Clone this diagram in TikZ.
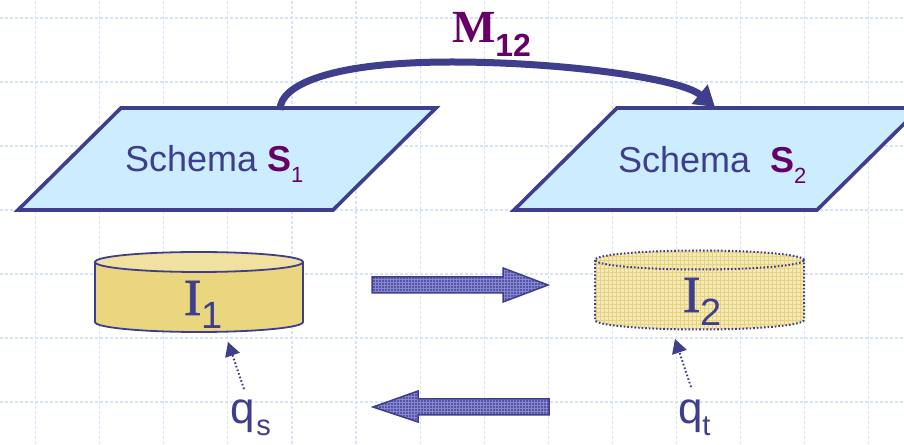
\documentclass[tikz,border=0pt]{standalone}
\usepackage{fontspec}
\setmainfont{Liberation Sans}
\newfontfamily\serifI{Liberation Serif}
\newfontfamily\serifIfat[FakeBold=1.6]{Liberation Serif}
\usetikzlibrary{arrows.meta}
\definecolor{mainblue}{RGB}{62,62,140}
\definecolor{maroon}{RGB}{102,0,102}
\definecolor{pfill}{RGB}{204,236,255}
\definecolor{gridc}{RGB}{216,226,250}
\definecolor{cylbody}{RGB}{235,214,128}
\definecolor{cyltop}{RGB}{241,225,160}
\definecolor{cyltwofill}{RGB}{246,234,180}
\definecolor{cyltwogrid}{RGB}{230,210,135}
\definecolor{barrow}{RGB}{86,86,168}
\definecolor{barrowgrid}{RGB}{135,135,205}
\begin{document}
\begin{tikzpicture}[x=1pt,y=1pt,
  bggrid/.style={gridc, line width=1.2pt, dash pattern=on 3pt off 2pt},
  schemabox/.style={draw=mainblue, fill=pfill, line width=3.6pt, line join=miter},
  cylline/.style={draw=mainblue, line width=1.8pt},
  cyldots/.style={draw=mainblue, line width=2pt, dash pattern=on 1.6pt off 2pt},
  blockline/.style={draw=mainblue, line width=1.5pt, line join=miter},
  texgrid/.style={barrowgrid, line width=0.6pt},
  lbl/.style={inner sep=0pt, outer sep=0pt, anchor=base west, text=mainblue},
  maparrow/.style={draw=mainblue, line width=7pt, -{Triangle[length=20pt,width=24pt]}},
  dotarrow/.style={draw=mainblue, line width=2pt, dash pattern=on 1.6pt off 2.2pt, -{Triangle[length=14pt,width=15pt]}}
]
\useasboundingbox (0,0) rectangle (904,444);
\fill[white] (0,0) rectangle (904,444);
% background grid
\foreach \k in {0,...,13} \draw[bggrid] ({35.5+64.1*\k},0) -- ({35.5+64.1*\k},444);
\foreach \k in {0,...,6} \draw[bggrid] (0,{426-64*\k}) -- (904,{426-64*\k});

% schema parallelograms
\draw[schemabox] (18,234) -- (333,234) -- (436,336) -- (121,336) -- cycle;
\draw[schemabox] (514,234) -- (817,234) -- (920,336) -- (617,336) -- cycle;

% mapping arc
\coordinate (a1) at (280,334);
\coordinate (a2) at (715,337);
\draw[maparrow] (a1) .. controls (280,359) and (330,382) .. (452,382) .. controls (560,382) and (680,366) .. (a2);

% cylinder 1
\fill[cylbody] (95,182) -- (95,122) arc[start angle=180,end angle=360,x radius=104,y radius=10] -- (303,182) -- cycle;
\draw[cylline] (95,182) -- (95,122) arc[start angle=180,end angle=360,x radius=104,y radius=10] -- (303,182);
\draw[cylline, fill=cyltop] (199,182) ellipse[x radius=104, y radius=10];

% cylinder 2
\begin{scope}
\clip (595,184) -- (595,124) arc[start angle=180,end angle=360,x radius=104.5,y radius=9.5] -- (804,184) arc[start angle=0,end angle=180,x radius=104.5,y radius=9.5] -- cycle;
\fill[cyltwofill] (590,100) rectangle (810,200);
\draw[cyltwogrid, line width=0.6pt] (591,100) grid[step=4pt] (810,200);
\end{scope}
\draw[cyldots] (595,184) -- (595,124) arc[start angle=180,end angle=360,x radius=104.5,y radius=9.5] -- (804,184);
\draw[cyldots] (699.5,184) ellipse[x radius=104.5, y radius=9.5];

% block arrow right
\begin{scope}
\clip (372,167) -- (503,167) -- (503,176) -- (548,159) -- (503,142) -- (503,151) -- (372,151) -- cycle;
\fill[barrow] (370,140) rectangle (550,180);
\draw[texgrid] (370,140) grid[step=3pt] (550,180);
\end{scope}
\draw[blockline] (372,167) -- (503,167) -- (503,176) -- (548,159) -- (503,142) -- (503,151) -- (372,151) -- cycle;

% block arrow left
\begin{scope}
\clip (373,37) -- (418,53) -- (418,45) -- (549,45) -- (549,29) -- (418,29) -- (418,22) -- cycle;
\fill[barrow] (370,20) rectangle (552,56);
\draw[texgrid] (370,20) grid[step=3pt] (552,56);
\end{scope}
\draw[blockline] (373,37) -- (418,53) -- (418,45) -- (549,45) -- (549,29) -- (418,29) -- (418,22) -- cycle;

% dotted query arrows
\coordinate (qs0) at (244,55);
\coordinate (qs1) at (228,102);
\coordinate (qt0) at (691,57);
\coordinate (qt1) at (675,105);
\draw[dotarrow] (qs0) -- (qs1);
\draw[dotarrow] (qt0) -- (qt1);

% texts
\node[lbl, font=\fontsize{36}{40}\selectfont] (s1t) at (125,272)
  {Schema {\color{maroon}\bfseries S}\raisebox{-11pt}{\color{maroon}\fontsize{22}{24}\selectfont 1}};
\node[lbl, font=\fontsize{36}{40}\selectfont] (s2t) at (618,271)
  {Schema\ \ {\color{maroon}\bfseries S}\raisebox{-11pt}{\color{maroon}\fontsize{22}{24}\selectfont 2}};
\node[lbl, text=maroon] (m12) at (452,401)
  {{\serifI\bfseries\fontsize{46}{50}\selectfont M}\raisebox{-14pt}{\fontsize{32}{36}\selectfont\bfseries 12}};
\node[lbl] (i1) at (184,129)
  {{\serifIfat\fontsize{52}{56}\selectfont I}\raisebox{-14pt}{\fontsize{38}{42}\selectfont 1}};
\node[lbl] (i2) at (683,132)
  {{\serifIfat\fontsize{52}{56}\selectfont I}\raisebox{-14pt}{\fontsize{38}{42}\selectfont 2}};
\node[lbl] (qs) at (230,20)
  {\fontsize{44}{48}\selectfont q\hspace{2pt}\raisebox{-12pt}{\fontsize{29}{32}\selectfont s}};
\node[lbl] (qt) at (678,20)
  {\fontsize{44}{48}\selectfont q\raisebox{-12pt}{\fontsize{29}{32}\selectfont t}};
\end{tikzpicture}
\end{document}
